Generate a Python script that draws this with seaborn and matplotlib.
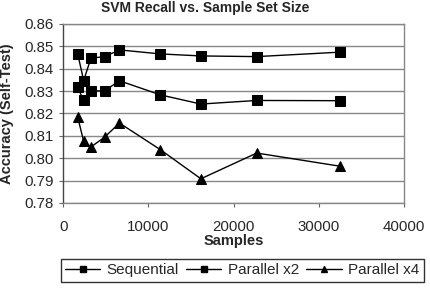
import numpy as np
import pandas as pd
import seaborn as sns
import matplotlib.pyplot as plt

samples = [1700, 2400, 3250, 4850, 6600, 11400, 16150, 22700, 32500]
sequential = [0.8466, 0.8347, 0.8447, 0.8454, 0.8484, 0.8466, 0.8457, 0.8454, 0.8474]
parallel_x2 = [0.8316, 0.8258, 0.8301, 0.8301, 0.8346, 0.8283, 0.8242, 0.8258, 0.8257]
parallel_x4 = [0.8184, 0.8075, 0.8050, 0.8094, 0.8157, 0.8038, 0.7908, 0.8023, 0.7964]
series_names = ["Sequential", "Parallel x2", "Parallel x4"]

df = pd.DataFrame({
    "Samples": samples * 3,
    "Accuracy": sequential + parallel_x2 + parallel_x4,
    "Series": np.repeat(series_names, len(samples)),
})

sns.set_style("white")
plt.rcParams["font.family"] = ["Liberation Sans", "DejaVu Sans"]

fig = plt.figure(figsize=(4.3, 2.92), dpi=100)
ax = fig.add_axes([0.147, 0.305, 0.793, 0.613])

sns.lineplot(data=df, x="Samples", y="Accuracy", hue="Series", style="Series",
             palette=["black"] * 3, markers=["s", "s", "^"], dashes=False,
             markersize=7, linewidth=1, markeredgecolor="black", ax=ax, legend=False)

ax.set_xlim(0, 40000)
ax.set_ylim(0.78, 0.86)
ax.set_xticks([0, 10000, 20000, 30000, 40000])
ax.set_yticks(np.arange(0.78, 0.8601, 0.01))
ax.set_yticklabels([f"{v:.2f}" for v in np.arange(0.78, 0.8601, 0.01)])
ax.yaxis.grid(True, color="#888888", linewidth=1)
ax.tick_params(axis="both", labelsize=10.8, length=3, color="#666666", direction="out")
ax.tick_params(axis="x", pad=9)
ax.tick_params(axis="y", left=True, pad=4)
ax.tick_params(axis="x", bottom=True)
for s in ax.spines.values():
    s.set_color("#888888")
    s.set_linewidth(1)
ax.spines["left"].set_color("#444444")

ax.set_xlabel("Samples", fontsize=10.5, fontweight="bold", labelpad=0)
ax.set_ylabel("Accuracy (Self-Test)", fontsize=10.5, fontweight="bold")
ax.yaxis.set_label_coords(-0.143, 0.5)

fig.text(0.477, 0.997, "SVM Recall vs. Sample Set Size", ha="center", va="top",
         fontsize=10, fontweight="bold")

handles = [
    plt.Line2D([], [], color="black", marker=m, markersize=5, linewidth=1)
    for m in ["s", "s", "^"]
]
leg = fig.legend(handles, series_names, loc="center", bbox_to_anchor=(0.563, 0.074),
                 ncol=3, fontsize=11, frameon=True, fancybox=False, handlelength=2.3,
                 columnspacing=0.5, handletextpad=0.4, borderpad=0.3)
leg.get_frame().set_edgecolor("black")
leg.get_frame().set_linewidth(1)

fig.savefig("out.png", dpi=100)
